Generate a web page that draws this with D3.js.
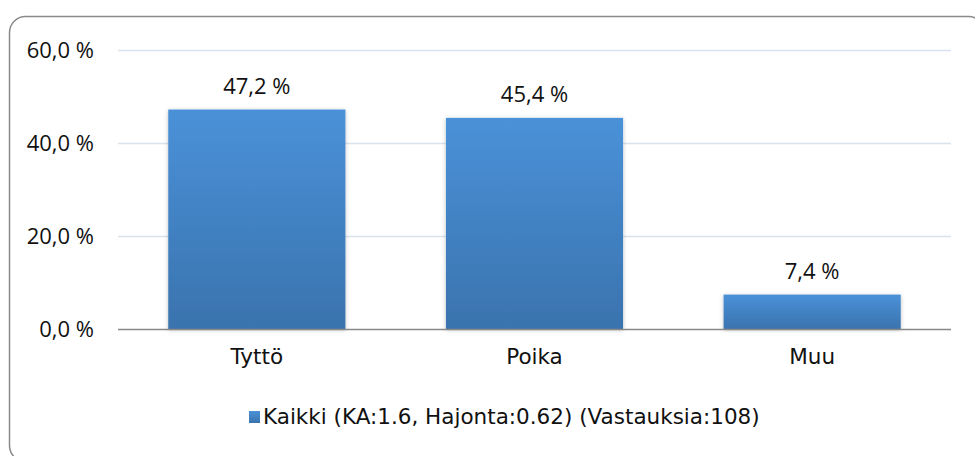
<!DOCTYPE html>
<html>
<head>
<meta charset="utf-8">
<script src="https://cdn.jsdelivr.net/npm/d3@7"></script>
<style>
  body { margin: 0; background: #fff; }
  text { font-family: "Open Sans", sans-serif; fill: #111; }
</style>
</head>
<body>
<svg id="chart"></svg>
<script>
// Data
const categories = ["Tyttö", "Poika", "Muu"];
const values = [47.2, 45.4, 7.4];
const yTicks = [0, 20, 40, 60];
const legendLabel = "Kaikki (KA:1.6, Hajonta:0.62) (Vastauksia:108)";

let width = 975;
let height = 456;
let margin = { top: 50, right: 24, bottom: 127, left: 118 };
let numFont = "'Open Sans', sans-serif";
let textFont = "'DejaVu Sans', sans-serif";

let svg = d3.select("#chart")
    .attr("width", width)
    .attr("height", height);

// gradient + shadow for bars
let defs = svg.append("defs");
let grad = defs.append("linearGradient")
    .attr("id", "barGrad")
    .attr("x1", 0).attr("y1", 0).attr("x2", 0).attr("y2", 1);
grad.append("stop").attr("offset", "0%").attr("stop-color", "#4a91d8");
grad.append("stop").attr("offset", "100%").attr("stop-color", "#3a73ae");

let shadow = defs.append("filter").attr("id", "shadow")
    .attr("x", "-10%").attr("y", "-10%").attr("width", "120%").attr("height", "120%");
shadow.append("feDropShadow")
    .attr("dx", 0).attr("dy", 1).attr("stdDeviation", 2)
    .attr("flood-color", "#000").attr("flood-opacity", 0.25);

// Outer rounded frame
svg.append("rect")
    .attr("x", 9.5).attr("y", 16.5)
    .attr("width", 975).attr("height", 445)
    .attr("rx", 16)
    .attr("fill", "none")
    .attr("stroke", "#8a8a8a")
    .attr("stroke-width", 1.5);

// Scales
let x = d3.scaleBand()
    .domain(categories)
    .range([margin.left, width - margin.right])
    .paddingInner(0.362)
    .paddingOuter(0.181);

let y = d3.scaleLinear()
    .domain([0, 60])
    .range([height - margin.bottom, margin.top]);

// Gridlines
svg.append("g")
    .selectAll("line")
    .data(yTicks.filter(d => d > 0))
    .join("line")
    .attr("x1", margin.left)
    .attr("x2", width - margin.right)
    .attr("y1", d => y(d) + 0.5)
    .attr("y2", d => y(d) + 0.5)
    .attr("stroke", "#d8e3ef")
    .attr("stroke-width", 1.5);

// Y axis labels
let yAxis = svg.append("g")
    .attr("transform", `translate(${margin.left},0.5)`)
    .call(d3.axisLeft(y).tickValues(yTicks).tickSize(0).tickPadding(24)
        .tickFormat(d => d.toFixed(1).replace(".", ",") + " %"));
yAxis.select(".domain").remove();
yAxis.selectAll("text")
    .style("font-size", "22px")
    .style("font-family", numFont)
    .attr("fill", "#111");

// Bars
svg.append("g")
    .selectAll("rect")
    .data(values)
    .join("rect")
    .attr("x", (d, i) => x(categories[i]))
    .attr("y", d => y(d))
    .attr("width", x.bandwidth())
    .attr("height", d => y(0) - y(d))
    .attr("fill", "url(#barGrad)")
    .attr("filter", "url(#shadow)");

// Baseline
svg.append("line")
    .attr("x1", margin.left)
    .attr("x2", width - margin.right)
    .attr("y1", y(0) + 0.5)
    .attr("y2", y(0) + 0.5)
    .attr("stroke", "#888")
    .attr("stroke-width", 1.5);

// Value labels
svg.append("g")
    .selectAll("text")
    .data(values)
    .join("text")
    .attr("x", (d, i) => x(categories[i]) + x.bandwidth() / 2)
    .attr("y", d => y(d) - 16)
    .attr("text-anchor", "middle")
    .style("font-size", "22px")
    .style("font-family", numFont)
    .text(d => d.toFixed(1).replace(".", ",") + " %");

// X axis labels
let xAxis = svg.append("g")
    .attr("transform", `translate(0,${y(0)})`)
    .call(d3.axisBottom(x).tickSize(0).tickPadding(20));
xAxis.select(".domain").remove();
xAxis.selectAll("text")
    .style("font-size", "21.5px")
    .style("font-family", textFont)
    .attr("fill", "#111");

// Legend
let legend = svg.append("g").attr("transform", "translate(249,411)");
legend.append("rect")
    .attr("width", 11).attr("height", 12)
    .attr("fill", "url(#barGrad)");
legend.append("text")
    .attr("x", 14)
    .attr("y", 13)
    .style("font-size", "21.5px")
    .style("font-family", textFont)
    .text(legendLabel);
</script>
</body>
</html>
